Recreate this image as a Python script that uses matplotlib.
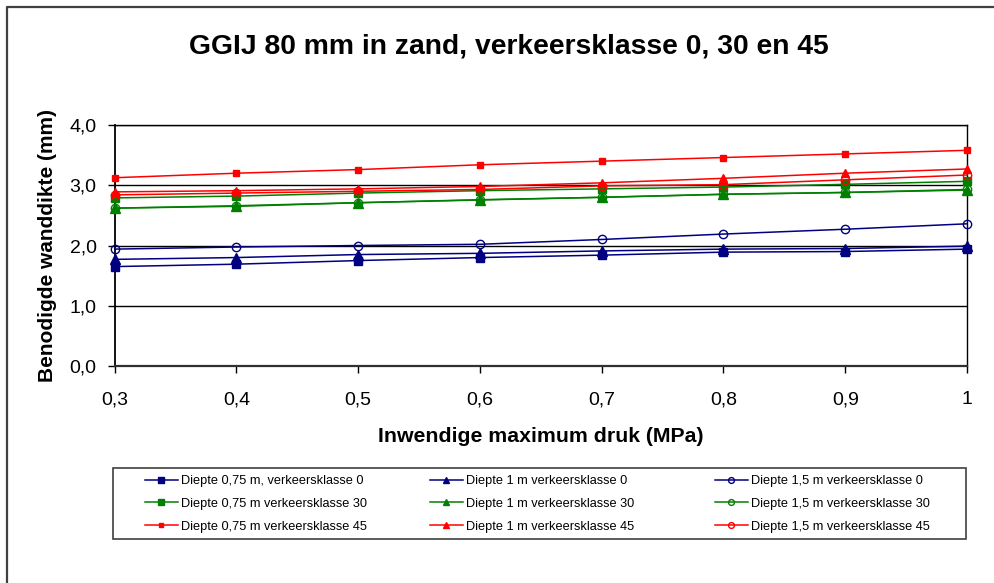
import matplotlib
matplotlib.use("Agg")
import matplotlib.pyplot as plt
from matplotlib.lines import Line2D
from matplotlib.patches import Rectangle

plt.rcParams["font.family"] = ["Liberation Sans", "DejaVu Sans"]

# Internal maximum pressure (MPa)
druk = [0.3, 0.4, 0.5, 0.6, 0.7, 0.8, 0.9, 1.0]
x_labels = ["0,3", "0,4", "0,5", "0,6", "0,7", "0,8", "0,9", "1"]
y_ticks = [0.0, 1.0, 2.0, 3.0, 4.0]
y_labels = ["0,0", "1,0", "2,0", "3,0", "4,0"]

# Required wall thickness (mm) per depth and traffic class
d075_k0 = [1.65, 1.69, 1.75, 1.80, 1.84, 1.89, 1.90, 1.94]
d1_k0 = [1.77, 1.80, 1.85, 1.87, 1.91, 1.94, 1.95, 1.99]
d15_k0 = [1.94, 1.975, 2.00, 2.02, 2.10, 2.19, 2.27, 2.36]

d075_k30 = [2.79, 2.82, 2.87, 2.91, 2.94, 2.97, 3.015, 3.065]
d1_k30 = [2.62, 2.65, 2.71, 2.755, 2.80, 2.85, 2.88, 2.92]
d15_k30 = [2.62, 2.66, 2.71, 2.76, 2.80, 2.85, 2.88, 2.93]

d075_k45 = [3.125, 3.20, 3.26, 3.34, 3.40, 3.46, 3.52, 3.58]
d1_k45 = [2.89, 2.91, 2.94, 2.98, 3.04, 3.115, 3.20, 3.27]
d15_k45 = [2.84, 2.87, 2.90, 2.93, 2.99, 3.01, 3.09, 3.17]

series = [
    ("Diepte 0,75 m, verkeersklasse 0", d075_k0, "#000080", "s", 6, True),
    ("Diepte 1 m verkeersklasse 0", d1_k0, "#000080", "^", 7, True),
    ("Diepte 1,5 m verkeersklasse 0", d15_k0, "#000080", "o", 6, False),
    ("Diepte 0,75 m verkeersklasse 30", d075_k30, "#008000", "s", 6, True),
    ("Diepte 1 m verkeersklasse 30", d1_k30, "#008000", "^", 7, True),
    ("Diepte 1,5 m verkeersklasse 30", d15_k30, "#008000", "o", 6, False),
    ("Diepte 0,75 m verkeersklasse 45", d075_k45, "#FF0000", "s", 5, True),
    ("Diepte 1 m verkeersklasse 45", d1_k45, "#FF0000", "^", 6, True),
    ("Diepte 1,5 m verkeersklasse 45", d15_k45, "#FF0000", "o", 6, False),
]

fig = plt.figure(figsize=(9.94, 5.83), dpi=100)
ax = fig.add_axes([0.1154, 0.3722, 0.9728 - 0.1154, 0.7856 - 0.3722])

handles = []
for label, vals, col, mk, ms, filled in series:
    h, = ax.plot(druk, vals, color=col, lw=1.1, marker=mk, markersize=ms,
                 markerfacecolor=col if filled else "none",
                 markeredgecolor=col, markeredgewidth=1.0, label=label,
                 clip_on=False, zorder=3)
    handles.append(h)

ax.set_xlim(0.3, 1.0)
ax.set_ylim(0, 4)
ax.set_xticks(druk)
ax.set_xticklabels(x_labels)
ax.set_yticks(y_ticks)
ax.set_yticklabels(y_labels)
ax.tick_params(axis="both", direction="out", length=5, width=1, labelsize=14,
               colors="black", pad=8)
ax.tick_params(axis="x", pad=13)
ax.grid(axis="y", color="black", lw=1)
ax.set_axisbelow(True)
for s in ax.spines.values():
    s.set_color("black")
    s.set_linewidth(1)
ax.spines["left"].set_linewidth(1.3)
ax.spines["bottom"].set_linewidth(1.6)
ax.spines["bottom"].set_color("#303030")

ax.set_xlabel("Inwendige maximum druk (MPa)", fontsize=15.3, fontweight="bold",
              labelpad=14)
ax.set_ylabel("Benodigde wanddikte (mm)", fontsize=15, fontweight="bold",
              labelpad=9)

fig.text(0.512, 0.921, "GGIJ 80 mm in zand, verkeersklasse 0, 30 en 45",
         ha="center", va="center", fontsize=20.3, fontweight="bold")

# legend frame
fig.add_artist(Rectangle((113 / 994, 1 - 539 / 583), (966 - 113) / 994, (539 - 468) / 583,
                         transform=fig.transFigure, facecolor="white",
                         edgecolor="#404040", lw=1.2, zorder=1))

# one legend per depth column; rows are traffic classes 0, 30, 45
col_x = [145, 430, 715]
for c in range(3):
    hs = [handles[c], handles[c + 3], handles[c + 6]]
    lg = fig.legend(hs, [h.get_label() for h in hs], loc="upper left",
                    bbox_to_anchor=(col_x[c] / 994, 1 - 475 / 583),
                    frameon=False, fontsize=9.2, handlelength=2.55,
                    handletextpad=0.3, borderpad=0, borderaxespad=0,
                    labelspacing=0.85, markerscale=0.7)
    lg.set_zorder(2)

# outer chart border (top and left edges visible)
fig.add_artist(Line2D([7 / 994, 7 / 994, 1.0], [0.0, 1 - 7 / 583, 1 - 7 / 583],
                      transform=fig.transFigure, color="#404040", lw=1.6))

fig.savefig("out.png", dpi=100)
